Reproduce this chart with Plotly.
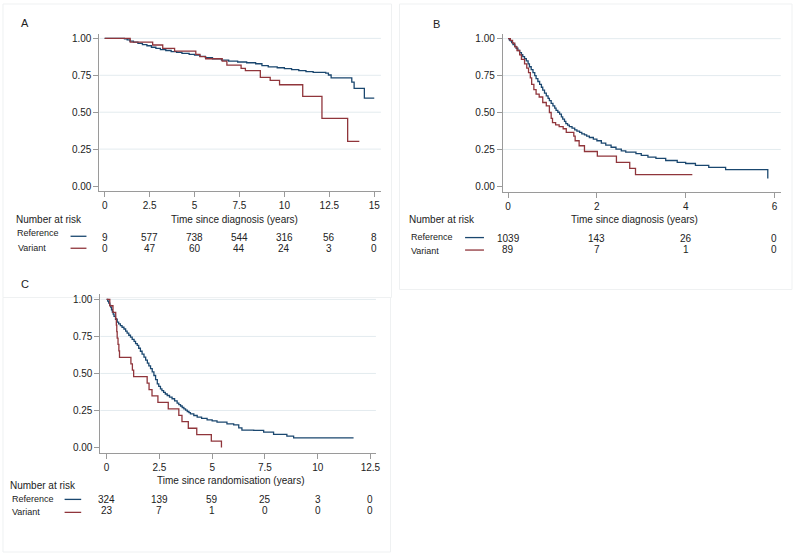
import plotly.graph_objects as go

W, H = 800, 554

NAVY = "#1a476f"
MAROON = "#90353b"
TXT = "#222222"
AXC = "#9a9a9a"
GRID = "#e3ebef"
BORDER = "#eff1f2"
FONT = "Liberation Sans, Arial, sans-serif"

# ---------------- Panel A data ----------------
a_ref_t = [0, 1.1, 1.25, 1.4, 1.6, 1.85, 2.1, 2.35, 2.6, 2.85, 3.1, 3.4, 3.7, 4.0, 4.3, 4.7, 5.0,
           5.3, 5.6, 6.0, 6.5, 6.9, 7.4, 7.9, 8.4, 8.75, 9.1, 9.6, 10.0, 10.4, 10.8, 11.2, 11.6,
           12.3, 12.45, 12.6, 13.75, 13.88, 14.45, 15.0]
a_ref_s = [1.0, 0.996, 0.99, 0.982, 0.975, 0.966, 0.958, 0.95, 0.94, 0.932, 0.924, 0.918, 0.91,
           0.905, 0.898, 0.892, 0.886, 0.878, 0.869, 0.862, 0.853, 0.846, 0.84, 0.835, 0.828,
           0.815, 0.807, 0.801, 0.795, 0.788, 0.782, 0.775, 0.77, 0.764, 0.752, 0.733, 0.704,
           0.662, 0.596, 0.596]
a_var_t = [0, 1.42, 2.67, 3.23, 3.89, 5.07, 5.3, 5.62, 6.54, 6.8, 7.59, 7.83, 8.66, 9.21, 9.73,
           11.02, 12.09, 13.52, 14.17]
a_var_s = [1.0, 0.975, 0.955, 0.932, 0.914, 0.892, 0.876, 0.862, 0.846, 0.819, 0.797, 0.781,
           0.736, 0.716, 0.686, 0.607, 0.458, 0.302, 0.302]
a_xticks = [0, 2.5, 5, 7.5, 10, 12.5, 15]
a_risk_ref = [9, 577, 738, 544, 316, 56, 8]
a_risk_var = [0, 47, 60, 44, 24, 3, 0]

# ---------------- Panel B data ----------------
b_ref_t = [0, 0.03, 0.05, 0.08, 0.11, 0.15, 0.18, 0.22, 0.26, 0.3, 0.33, 0.37, 0.41, 0.45, 0.48,
           0.52, 0.56, 0.6, 0.63, 0.67, 0.71, 0.75, 0.78, 0.82, 0.86, 0.9, 0.93, 0.97, 1.01,
           1.05, 1.08, 1.12, 1.16, 1.2, 1.23, 1.27, 1.3, 1.34, 1.38, 1.44, 1.5, 1.55, 1.61,
           1.66, 1.72, 1.77, 1.83, 1.92, 2.0, 2.1, 2.2, 2.32, 2.43, 2.55, 2.65, 2.88, 3.0, 3.15,
           3.33, 3.55, 3.81, 4.0, 4.22, 4.52, 4.9, 5.85]
b_ref_s = [1.0, 0.99, 0.985, 0.973, 0.96, 0.948, 0.935, 0.92, 0.905, 0.891, 0.878, 0.865, 0.85,
           0.83, 0.81, 0.79, 0.77, 0.75, 0.73, 0.71, 0.69, 0.671, 0.652, 0.632, 0.613, 0.596,
           0.58, 0.562, 0.545, 0.53, 0.515, 0.502, 0.489, 0.47, 0.455, 0.44, 0.425, 0.415,
           0.405, 0.394, 0.383, 0.374, 0.365, 0.356, 0.348, 0.34, 0.331, 0.32, 0.309, 0.293,
           0.279, 0.265, 0.252, 0.24, 0.232, 0.222, 0.21, 0.198, 0.19, 0.175, 0.163, 0.155,
           0.142, 0.128, 0.113, 0.054]
b_var_t = [0, 0.05, 0.1, 0.15, 0.2, 0.26, 0.3, 0.37, 0.42, 0.46, 0.5, 0.53, 0.58, 0.63, 0.7,
           0.78, 0.86, 0.93, 0.97, 1.0, 1.07, 1.15, 1.24, 1.31, 1.48, 1.51, 1.6, 1.72, 2.01,
           2.44, 2.74, 2.87, 4.15]
b_var_s = [1.0, 0.989, 0.97, 0.945, 0.92, 0.89, 0.86, 0.83, 0.8, 0.77, 0.735, 0.69, 0.655,
           0.624, 0.605, 0.568, 0.545, 0.5, 0.46, 0.432, 0.417, 0.405, 0.39, 0.365, 0.34, 0.309,
           0.275, 0.236, 0.205, 0.163, 0.122, 0.08, 0.08]
b_xticks = [0, 2, 4, 6]
b_risk_ref = [1039, 143, 26, 0]
b_risk_var = [89, 7, 1, 0]

# ---------------- Panel C data ----------------
c_ref_t = [0, 0.05, 0.1, 0.15, 0.19, 0.23, 0.27, 0.31, 0.35, 0.42, 0.5, 0.57, 0.65, 0.73, 0.82,
           0.9, 0.97, 1.05, 1.13, 1.21, 1.3, 1.37, 1.45, 1.52, 1.6, 1.68, 1.77, 1.85, 1.93, 2.0,
           2.08, 2.16, 2.24, 2.32, 2.4, 2.47, 2.55, 2.62, 2.7, 2.78, 2.87, 2.98, 3.1, 3.22,
           3.34, 3.42, 3.5, 3.58, 3.66, 3.74, 3.82, 3.9, 3.97, 4.13, 4.29, 4.5, 4.76, 5.0, 5.23,
           5.7, 6.02, 6.26, 6.41, 6.97, 7.44, 7.91, 8.54, 8.86, 11.7]
c_ref_s = [1.0, 0.988, 0.975, 0.96, 0.948, 0.93, 0.915, 0.9, 0.885, 0.866, 0.847, 0.835, 0.823,
           0.812, 0.8, 0.786, 0.772, 0.758, 0.745, 0.73, 0.716, 0.702, 0.689, 0.67, 0.65, 0.63,
           0.61, 0.59, 0.57, 0.551, 0.532, 0.51, 0.486, 0.458, 0.43, 0.412, 0.396, 0.384,
           0.372, 0.361, 0.351, 0.34, 0.329, 0.315, 0.3, 0.29, 0.28, 0.27, 0.261, 0.252, 0.243,
           0.235, 0.227, 0.216, 0.205, 0.197, 0.187, 0.18, 0.171, 0.16, 0.153, 0.133, 0.117,
           0.115, 0.104, 0.088, 0.077, 0.065, 0.065]
c_var_t = [0, 0.15, 0.3, 0.43, 0.46, 0.48, 0.5, 0.54, 0.58, 0.61, 1.15, 1.22, 1.28, 1.92, 2.01,
           2.15, 2.43, 2.92, 3.42, 3.57, 3.87, 4.27, 4.96, 5.44]
c_var_s = [1.0, 0.957, 0.913, 0.87, 0.826, 0.783, 0.739, 0.696, 0.652, 0.609, 0.565, 0.522,
           0.478, 0.435, 0.391, 0.348, 0.304, 0.261, 0.217, 0.174, 0.13, 0.087, 0.043, 0.0]
c_xticks = [0, 2.5, 5, 7.5, 10, 12.5]
c_risk_ref = [324, 139, 59, 25, 3, 0]
c_risk_var = [23, 7, 1, 0, 0, 0]

y_ticks = [0, 0.25, 0.5, 0.75, 1.0]
grid_vals = [0.25, 0.5, 0.75, 1.0]
group_names = ["Reference", "Variant"]


def PX(x):
    return x / W


def PY(y):
    return 1 - y / H


panels = [
    dict(n="", label="A", lab_xy=(25, 22.5),
         ref=(a_ref_t, a_ref_s), var=(a_var_t, a_var_s),
         dx=(100, 383.3), dy=(33.3, 190.7), xr=(-0.295, 15.37), yr=(-0.036, 1.028),
         xticks=a_xticks, title="Time since diagnosis (years)", title_xy=(235.5, 219.3),
         nar_xy=(14, 219), ref_lab=(15, 232.5), var_lab=(16, 247),
         leg_x=(71, 87), leg_y=(235.7, 247.7),
         risk_y=(237.3, 248.3), risk=(a_risk_ref, a_risk_var),
         box=(3, 3, 394, 297)),
    dict(n="2", label="B", lab_xy=(439.5, 23),
         ref=(b_ref_t, b_ref_s), var=(b_var_t, b_var_s),
         dx=(506, 785.7), dy=(33.3, 191.7), xr=(-0.119, 6.143), yr=(-0.0405, 1.03),
         xticks=b_xticks, title="Time since diagnosis (years)", title_xy=(638, 218.5),
         nar_xy=(410, 219), ref_lab=(411.7, 236.3), var_lab=(411.7, 250),
         leg_x=(468, 487), leg_y=(237, 249.5),
         risk_y=(237.7, 248.7), risk=(b_risk_ref, b_risk_var),
         box=(402, 3, 797, 289)),
    dict(n="3", label="C", lab_xy=(25, 283.3),
         ref=(c_ref_t, c_ref_s), var=(c_var_t, c_var_s),
         dx=(101, 378.3), dy=(293.3, 453.3), xr=(-0.297, 12.76), yr=(-0.0405, 1.038),
         xticks=c_xticks, title="Time since randomisation (years)", title_xy=(232.2, 480),
         nar_xy=(8.3, 485.7), ref_lab=(10, 499), var_lab=(10, 512.3),
         leg_x=(65, 81.7), leg_y=(499.3, 512.3),
         risk_y=(499.3, 510.5), risk=(c_risk_ref, c_risk_var),
         box=(3, 297, 393, 552)),
]

fig = go.Figure()
layout = dict(
    width=W, height=H, margin=dict(l=0, r=0, t=0, b=0),
    paper_bgcolor="white", plot_bgcolor="white", showlegend=False,
    font=dict(family=FONT, size=10, color=TXT),
)
annotations = []
shapes = []

for p in panels:
    n = p["n"]
    xa = "x" + n
    ya = "y" + n
    for (t, s), col in ((p["ref"], NAVY), (p["var"], MAROON)):
        fig.add_trace(go.Scatter(x=t, y=s, mode="lines", xaxis=xa, yaxis=ya,
                                 line=dict(shape="hv", color=col, width=1.3),
                                 hoverinfo="skip", showlegend=False))
    layout["xaxis" + n] = dict(
        domain=[PX(p["dx"][0]), PX(p["dx"][1])], range=list(p["xr"]), anchor=ya,
        tickvals=p["xticks"], showgrid=False, zeroline=False, showline=True,
        linecolor=AXC, linewidth=1, ticks="outside", ticklen=5, tickcolor=AXC,
        tickfont=dict(size=10, color=TXT, family=FONT), fixedrange=True)
    layout["yaxis" + n] = dict(
        domain=[PY(p["dy"][1]), PY(p["dy"][0])], range=list(p["yr"]), anchor=xa,
        tickvals=y_ticks, tickformat=".2f", showgrid=False, zeroline=False, showline=True,
        linecolor=AXC, linewidth=1, ticks="outside", ticklen=5, tickcolor=AXC,
        tickfont=dict(size=10, color=TXT, family=FONT), fixedrange=True)
    # gridlines (not at 0, Stata style)
    for g in grid_vals:
        shapes.append(dict(type="line", xref=xa + " domain", yref=ya, x0=0, x1=1, y0=g, y1=g,
                           line=dict(color=GRID, width=1), layer="below"))
    # panel border
    bx0, by0, bx1, by1 = p["box"]
    shapes.append(dict(type="rect", xref="paper", yref="paper", x0=PX(bx0), x1=PX(bx1),
                       y0=PY(by1), y1=PY(by0), line=dict(color=BORDER, width=1),
                       layer="below"))
    # panel letter
    annotations.append(dict(text=p["label"], xref="paper", yref="paper",
                            x=PX(p["lab_xy"][0]), y=PY(p["lab_xy"][1]),
                            showarrow=False, xanchor="center", yanchor="middle",
                            font=dict(size=11, color=TXT, family=FONT)))
    # axis title
    annotations.append(dict(text=p["title"], xref="paper", yref="paper",
                            x=PX(p["title_xy"][0]), y=PY(p["title_xy"][1]),
                            showarrow=False, xanchor="center", yanchor="middle",
                            font=dict(size=10, color=TXT, family=FONT)))
    # number at risk header
    annotations.append(dict(text="Number at risk", xref="paper", yref="paper",
                            x=PX(p["nar_xy"][0]), y=PY(p["nar_xy"][1]),
                            showarrow=False, xanchor="left", yanchor="middle",
                            font=dict(size=10, color=TXT, family=FONT)))
    for gi, (gname, lab_xy, ly, col) in enumerate(
            zip(group_names, (p["ref_lab"], p["var_lab"]), p["leg_y"], (NAVY, MAROON))):
        annotations.append(dict(text=gname, xref="paper", yref="paper",
                                x=PX(lab_xy[0]), y=PY(lab_xy[1]),
                                showarrow=False, xanchor="left", yanchor="middle",
                                font=dict(size=9, color=TXT, family=FONT)))
        shapes.append(dict(type="line", xref="paper", yref="paper",
                           x0=PX(p["leg_x"][0]), x1=PX(p["leg_x"][1]),
                           y0=PY(ly), y1=PY(ly), line=dict(color=col, width=1.3)))
        for tv, num in zip(p["xticks"], p["risk"][gi]):
            annotations.append(dict(text=str(num), xref=xa, yref="paper",
                                    x=tv, y=PY(p["risk_y"][gi]),
                                    showarrow=False, xanchor="center", yanchor="middle",
                                    font=dict(size=10, color=TXT, family=FONT)))

layout["annotations"] = annotations
layout["shapes"] = shapes
fig.update_layout(**layout)
fig.write_html(
    "out.html",
    config={"displayModeBar": False},
    post_script="document.body.style.margin='0';document.body.style.padding='0';"
                "document.documentElement.style.overflow='hidden';",
)
